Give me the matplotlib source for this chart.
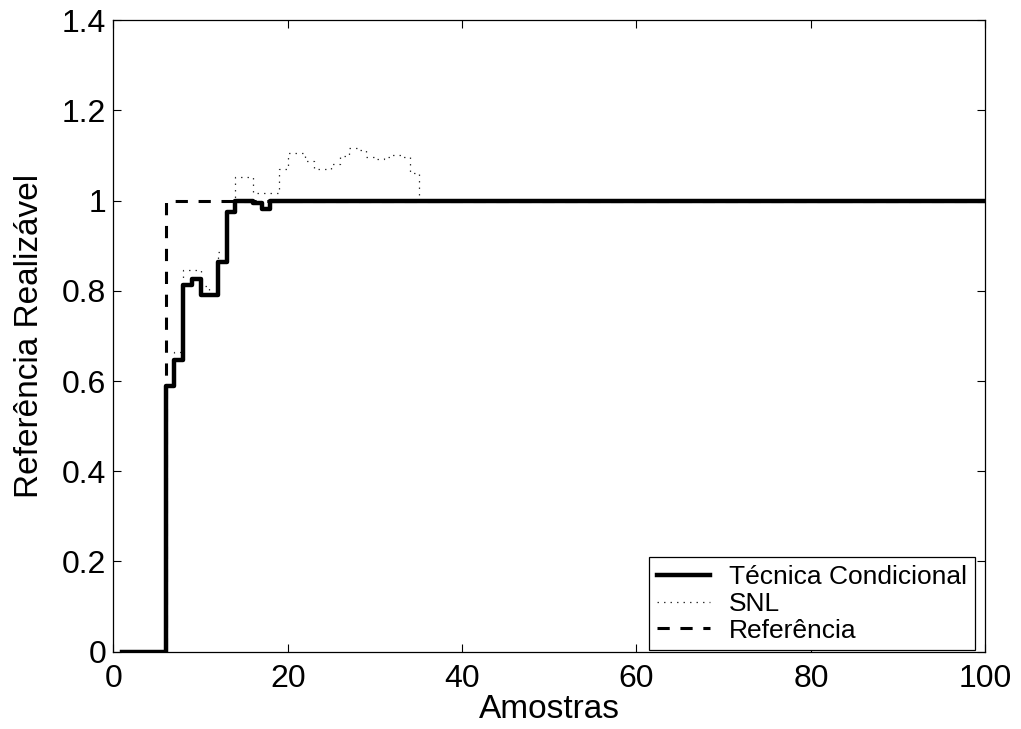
import numpy as np
import matplotlib
matplotlib.use('Agg')
import matplotlib.pyplot as plt

plt.rcParams['font.family'] = ['Liberation Sans', 'DejaVu Sans']

# amostras 1..100
amostras = np.arange(1, 101)

# Técnica Condicional (amostras 1..20)
tecnica_ini = [0, 0, 0, 0, 0, 0.59, 0.647, 0.813, 0.825, 0.79,
               0.79, 0.864, 0.975, 1.0, 1.0, 0.995, 0.982, 1.0, 1.0, 1.0]
# SNL (amostras 1..35)
snl_ini = [0, 0, 0, 0, 0, 0.59, 0.665, 0.845, 0.845, 0.81,
           0.79, 0.885, 0.975, 1.053, 1.053, 1.016, 1.016, 1.016, 1.07, 1.106,
           1.106, 1.088, 1.07, 1.07, 1.081, 1.099, 1.116, 1.113, 1.096, 1.092,
           1.096, 1.10, 1.097, 1.062, 1.0]
# Referência
ref_ini = [0, 0, 0, 0, 0, 1.0]

tecnica = np.array(tecnica_ini + [1.0] * (100 - len(tecnica_ini)))
snl = np.array(snl_ini + [1.0] * (100 - len(snl_ini)))
referencia = np.array(ref_ini + [1.0] * (100 - len(ref_ini)))

xticks = [0, 20, 40, 60, 80, 100]
yticks = [0, 0.2, 0.4, 0.6, 0.8, 1.0, 1.2, 1.4]
ylabels = ['0', '0.2', '0.4', '0.6', '0.8', '1', '1.2', '1.4']

fig = plt.figure(figsize=(10.21, 7.29), dpi=100)
ax = fig.add_axes([0.111, 0.106, 0.854, 0.8665])

l2, = ax.step(amostras, snl, where='post', color='#333333', lw=0.9,
              linestyle=(0, (1.2, 4)), label='SNL', zorder=2)
l1, = ax.step(amostras, tecnica, where='post', color='black', lw=3.2,
              label='Técnica Condicional', zorder=3)
l3, = ax.step(amostras, referencia, where='post', color='black', lw=2.2,
              linestyle=(0, (4, 3.5)), label='Referência', zorder=1)

ax.set_xlim(0, 100)
ax.set_ylim(0, 1.4)
ax.set_xticks(xticks)
ax.set_yticks(yticks)
ax.set_yticklabels(ylabels)
ax.tick_params(direction='in', length=6, width=0.8, labelsize=23,
               top=True, right=True)
ax.tick_params(axis='x', pad=9)
ax.tick_params(axis='y', pad=5)
for s in ax.spines.values():
    s.set_linewidth(0.9)

ax.set_xlabel('Amostras', fontsize=24, labelpad=0)
ax.set_ylabel('Referência Realizável', fontsize=24, labelpad=12)

leg = ax.legend(handles=[l1, l2, l3], loc='lower right',
                bbox_to_anchor=(0.9885, 0.002), fontsize=19, frameon=True,
                fancybox=False, edgecolor='black', framealpha=1,
                borderpad=0.3, labelspacing=0.1, handlelength=2.0,
                handletextpad=0.75, borderaxespad=0)
leg.get_frame().set_linewidth(0.9)

fig.savefig('out.png', dpi=100)
